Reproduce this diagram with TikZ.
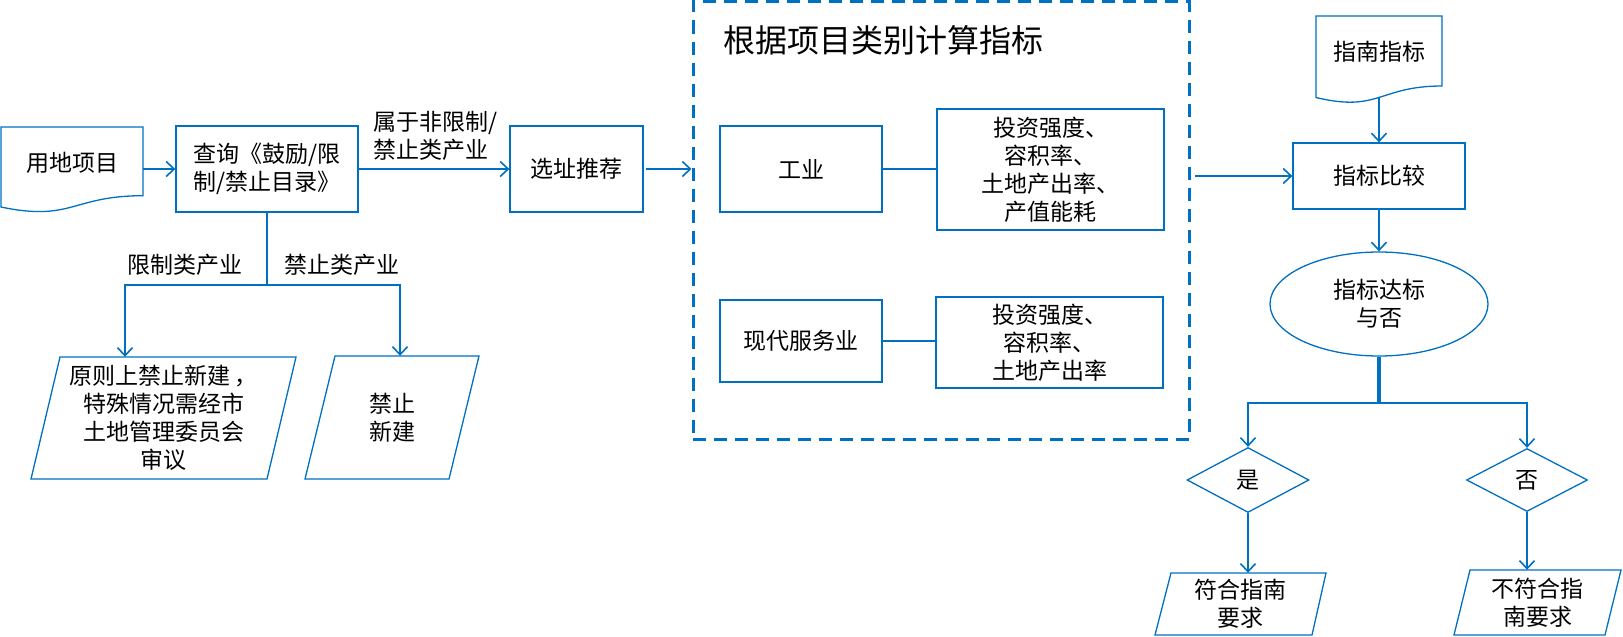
\documentclass[tikz,border=0pt]{standalone}
\usepackage{fontspec}
\newfontfamily\cjk{Noto Sans CJK SC}
\usetikzlibrary{arrows.meta,shapes.geometric,calc}
\definecolor{bl}{HTML}{0070C0}
\begin{document}
\begin{tikzpicture}[x=1pt,y=-1pt,
  every node/.style={font=\cjk\fontsize{23}{28}\selectfont, text=black, inner sep=0pt, align=center},
  box/.style={draw=bl, line width=1.3pt, rectangle},
  ghost/.style={rectangle},
  outline/.style={draw=bl, line width=1.3pt},
  conn/.style={draw=bl, line width=2pt},
  arr/.style={conn, -{Straight Barb[length=8pt,width=15pt,line width=1.6pt]}},
]
\useasboundingbox (0,0) rectangle (1623,637);

% left part
\node[ghost, minimum width=142pt, minimum height=72pt] (doc1) at (72,163) {用地项目};
\draw[outline] (1,127) -- (143,127) -- (143,195.7) .. controls (72,195.7) and (72,221.9) .. (1,207) -- cycle;
\node[box, minimum width=182pt, minimum height=86pt, align=left] (q) at (267,169) {查询《鼓励/限\\制/禁止目录》};
\node[box, minimum width=133pt, minimum height=86pt] (sel) at (576.5,169) {选址推荐};
\node[anchor=west, align=left] (lbl) at (373,136) {属于非限制/\\禁止类产业};

\node[ghost, minimum width=265pt, minimum height=122pt] (p1) at (163.5,418) {原则上禁止新建\,，\\特殊情况需经市\\土地管理委员会\\审议};
\draw[outline] (60,357) -- (296,357) -- (267,479) -- (31,479) -- cycle;
\node[ghost, minimum width=174pt, minimum height=123pt] (p2) at (392,417.5) {禁止\\新建};
\draw[outline] (335,356) -- (479,356) -- (449,479) -- (305,479) -- cycle;
\node (l1) at (185,265) {限制类产业};
\node (l2) at (342,265) {禁止类产业};

% middle dashed group
\node[rectangle, draw=bl, line width=3pt, dash pattern=on 13pt off 8pt, minimum width=496pt, minimum height=438pt] (calc) at (941,220.5) {};
\node[anchor=west, font=\cjk\fontsize{32}{38}\selectfont] (title) at (723,40) {根据项目类别计算指标};
\node[box, minimum width=162pt, minimum height=86pt] (ind) at (801,169) {工业};
\node[box, minimum width=227pt, minimum height=121pt] (m1) at (1050.5,169.5) {投资强度、\\容积率、\\土地产出率、\\产值能耗};
\node[box, minimum width=162pt, minimum height=82pt] (svc) at (801,341) {现代服务业};
\node[box, minimum width=227pt, minimum height=91pt] (m2) at (1049.5,342.5) {投资强度、\\容积率、\\土地产出率};

% right part
\node[ghost, minimum width=126pt, minimum height=72pt] (doc2) at (1379,52) {指南指标};
\draw[outline] (1316,16) -- (1442,16) -- (1442,86) .. controls (1379,86) and (1379,112.7) .. (1316,97.5) -- cycle;
\node[box, minimum width=172pt, minimum height=66pt] (cmp) at (1379,176) {指标比较};
\node[outline, ellipse, minimum width=218pt, minimum height=104pt] (ell) at (1379,304) {指标达标\\与否};
\node[outline, diamond, minimum width=122pt, minimum height=65pt] (yes) at (1248,480) {是};
\node[outline, diamond, minimum width=121pt, minimum height=63pt] (no) at (1527,480) {否};
\node[ghost, minimum width=171pt, minimum height=62pt] (ok) at (1240.5,604) {符合指南\\要求};
\draw[outline] (1171,573) -- (1326,573) -- (1312,635) -- (1155,635) -- cycle;
\node[ghost, minimum width=167pt, minimum height=65pt] (nok) at (1537.5,602.5) {不符合指\\南要求};
\draw[outline] (1470,570) -- (1621,570) -- (1605,635) -- (1454,635) -- cycle;

% connectors
\draw[arr] (doc1.east |- q.west) -- (q.west);
\draw[arr] (q.east) -- (sel.west);
\draw[arr] ([xshift=2pt]sel.east) -- (sel.east -| calc.west);
\draw[conn] (ind.east) -- (ind.east -| m1.west);
\draw[conn] (svc.east) -- (svc.east -| m2.west);
\draw[arr] ([xshift=4pt]calc.east |- cmp.west) -- (cmp.west);
\draw[arr] ([yshift=-9.5pt]doc2.south) -- (cmp.north);
\draw[arr] (cmp.south) -- (ell.north);
\draw[conn, line width=4pt] (ell.south) -- ++(0,46) coordinate (split);
\draw[arr] (split) -| (yes.north);
\draw[arr] (split) -| (no.north);
\draw[arr] (yes.south) -- (yes.south |- ok.north);
\draw[arr] (no.south) -- (no.south |- nok.north);
\draw[conn] (q.south) -- ++(0,72) coordinate (lsplit);
\draw[arr] (lsplit) -| ([xshift=-38.5pt]p1.north);
\draw[arr] (lsplit) -| ([xshift=8pt]p2.north);
\end{tikzpicture}
\end{document}
